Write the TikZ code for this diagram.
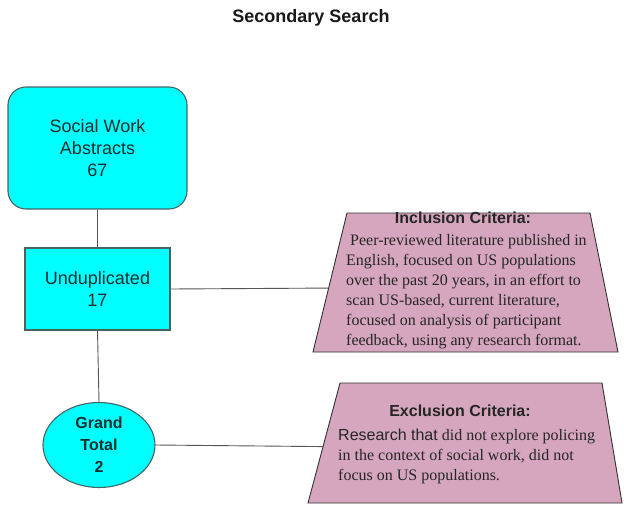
\documentclass[tikz,border=0pt]{standalone}
\usepackage{fontspec}
\setmainfont{Liberation Serif}
\setsansfont{Liberation Sans}
\usetikzlibrary{calc,shapes.geometric}
\definecolor{boxfill}{RGB}{0,255,255}
\definecolor{boxline}{RGB}{70,100,100}
\definecolor{boxtext}{RGB}{30,45,45}
\definecolor{pinkfill}{RGB}{213,166,189}
\definecolor{pinkline}{RGB}{50,50,50}
\definecolor{connline}{RGB}{85,85,85}
\tikzset{
  cyanbox/.style={draw=boxline, line width=1.1pt, fill=boxfill, text=boxtext, align=center,
    font=\sffamily\fontsize{18}{22}\selectfont, inner sep=0pt},
  critbox/.style={draw=pinkline, line width=0.9pt, fill=pinkfill},
  crittitle/.style={font=\sffamily\bfseries\fontsize{16}{20}\selectfont, text=black!85, inner sep=0pt},
  critbody/.style={font=\fontsize{16}{20}\selectfont, text=black!85, align=left, inner sep=0pt, anchor=north west},
  conn/.style={draw=connline, line width=0.9pt}
}
\begin{document}
\begin{tikzpicture}[x=1pt,y=-1pt]
\useasboundingbox[fill=white] (0,0) rectangle (624,506);

\node[font=\sffamily\bfseries\fontsize{18}{22}\selectfont, text=black!90] (title) at (311,18) {Secondary Search};

\node[cyanbox, rounded corners=18pt, minimum width=179pt, minimum height=122pt] (sw) at (97.5,148)
  {Social Work\\Abstracts\\67};
\node[cyanbox, minimum width=145pt, minimum height=82pt] (ud) at (97.5,289)
  {Unduplicated\\17};
\node[cyanbox, ellipse, minimum width=112pt, minimum height=85pt, font=\sffamily\bfseries\fontsize{16}{22}\selectfont] (gt) at (99,445)
  {Grand\\Total\\2};

% Inclusion trapezoid
\coordinate (itl) at (347,213);
\coordinate (itr) at (590,213);
\coordinate (ibr) at (618,352);
\coordinate (ibl) at (313,352);
\draw[critbox] (itl) -- (itr) -- (ibr) -- (ibl) -- cycle;
\coordinate (iin) at ($(itl)!0.54!(ibl)$);
\node[crittitle] (inct) at (463,218) {Inclusion Criteria:};
\node[critbody] (incb) at (346,234)
  {\ Peer-reviewed literature published in\\
   English, focused on US populations\\
   over the past 20 years, in an effort to\\
   scan US-based, current literature,\\
   focused on analysis of participant\\
   feedback, using any research format.};

% Exclusion trapezoid
\coordinate (etl) at (340,383);
\coordinate (etr) at (602,383);
\coordinate (ebr) at (622,503);
\coordinate (ebl) at (308,503);
\draw[critbox] (etl) -- (etr) -- (ebr) -- (ebl) -- cycle;
\coordinate (ein) at ($(etl)!0.53!(ebl)$);
\node[crittitle] (exct) at (460,411) {Exclusion Criteria:};
\node[critbody] (excb) at (338,428.5)
  {{\sffamily Research that} did not explore policing\\
   in the context of social work, did not\\
   focus on US populations.};

% connectors
\draw[conn] (sw.south) -- (ud.north);
\draw[conn] (ud.south) -- (gt.north);
\draw[conn] (ud.east) -- (iin);
\draw[conn] (gt.east) -- (ein);
\end{tikzpicture}
\end{document}
